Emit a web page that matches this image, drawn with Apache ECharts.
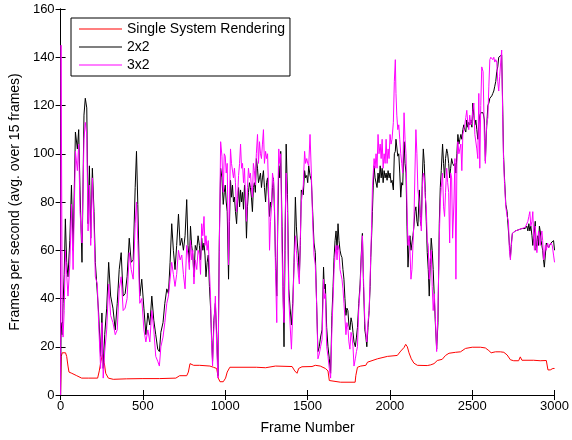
<!DOCTYPE html>
<html>
<head>
  <meta charset="UTF-8" />
  <title>Frames per second</title>
  <style type="text/css">
    * { margin: 0; padding: 0; }
    body { background: #fff; }
    #main { width: 572px; height: 440px; }
  </style>
</head>
<body>
  <div id="main"></div>
</body>
<script src="https://cdn.jsdelivr.net/npm/echarts@6/dist/echarts.min.js"></script>
<script type="text/javascript">
  // frame numbers sampled for the 2x2 and 3x2 runs
  const multiFrames = [0, 3, 10, 15, 22, 29, 37, 45, 56, 66, 76, 90, 102, 110, 118, 130, 142, 150, 159, 167,
    175, 183, 193, 203, 211, 223, 231, 243, 251, 259, 268, 280, 292, 304, 318, 332, 344, 356, 368, 380,
    392, 404, 417, 429, 441, 453, 461, 469, 481, 493, 506, 518, 530, 542, 554, 566, 578, 590, 600, 609,
    622, 633, 645, 655, 665, 675, 685, 695, 705, 716, 726, 736, 746, 756, 766, 774, 782, 789, 796, 803,
    810, 818, 827, 835, 843, 850, 857, 864, 871, 877, 883, 890, 897, 904, 911, 917, 923, 931, 940, 948,
    956, 964, 972, 980, 988, 994, 1000, 1006, 1012, 1020, 1026, 1032, 1038, 1044, 1050, 1056, 1062, 1069, 1075, 1081,
    1087, 1093, 1099, 1105, 1111, 1117, 1123, 1129, 1135, 1141, 1147, 1153, 1159, 1165, 1171, 1177, 1183, 1189, 1196, 1202,
    1208, 1214, 1220, 1226, 1232, 1238, 1245, 1251, 1257, 1263, 1269, 1275, 1281, 1287, 1293, 1299, 1305, 1313, 1319, 1325,
    1331, 1337, 1345, 1351, 1357, 1363, 1370, 1378, 1386, 1394, 1402, 1410, 1418, 1426, 1432, 1438, 1444, 1450, 1456, 1462,
    1468, 1474, 1482, 1488, 1495, 1501, 1507, 1515, 1523, 1531, 1539, 1547, 1555, 1563, 1571, 1579, 1588, 1597, 1602, 1608,
    1616, 1624, 1632, 1640, 1648, 1655, 1661, 1667, 1673, 1679, 1685, 1691, 1697, 1703, 1709, 1715, 1721, 1727, 1733, 1739,
    1745, 1751, 1757, 1764, 1770, 1776, 1782, 1790, 1797, 1803, 1811, 1819, 1826, 1833, 1840, 1848, 1854, 1860, 1867, 1874,
    1880, 1884, 1889, 1894, 1899, 1904, 1910, 1916, 1922, 1928, 1934, 1941, 1947, 1953, 1959, 1965, 1971, 1977, 1983, 1989,
    1995, 2001, 2007, 2013, 2021, 2027, 2033, 2037, 2042, 2048, 2054, 2060, 2066, 2072, 2078, 2086, 2092, 2098, 2104, 2110,
    2116, 2122, 2128, 2134, 2140, 2146, 2152, 2158, 2164, 2170, 2179, 2185, 2191, 2197, 2203, 2209, 2215, 2221, 2227, 2233,
    2239, 2245, 2251, 2257, 2263, 2270, 2276, 2284, 2292, 2300, 2306, 2312, 2320, 2326, 2332, 2338, 2345, 2351, 2357, 2363,
    2369, 2375, 2381, 2389, 2395, 2401, 2407, 2413, 2419, 2425, 2431, 2437, 2443, 2449, 2455, 2461, 2467, 2473, 2479, 2485,
    2492, 2498, 2504, 2510, 2516, 2522, 2528, 2534, 2540, 2546, 2552, 2558, 2566, 2574, 2580, 2587, 2595, 2601, 2607, 2613,
    2619, 2625, 2631, 2637, 2643, 2649, 2655, 2661, 2667, 2673, 2679, 2685, 2690, 2696, 2704, 2712, 2720, 2726, 2732, 2738,
    2744, 2752, 2762, 2772, 2782, 2792, 2802, 2812, 2822, 2832, 2838, 2844, 2850, 2856, 2863, 2868, 2873, 2878, 2883, 2888,
    2893, 2898, 2903, 2908, 2913, 2918, 2923, 2928, 2933, 2938, 2944, 2950, 2958, 2964, 2970, 2978, 2986, 2994, 3000]

  const fps2x2 = [0, 30, 25, 38, 50, 73, 55, 49, 64, 87, 60, 109, 102, 110, 85, 55, 116, 123, 119, 71,
    95, 65, 94, 76, 55, 55, 34, 16, 34, 11, 25, 36, 55, 41, 36, 27, 38, 52, 59, 41,
    42, 49, 65, 55, 56, 86, 101, 79, 41, 48, 36, 25, 34, 29, 41, 31, 25, 19, 18, 26,
    30, 38, 44, 42, 55, 71, 60, 52, 62, 75, 62, 65, 60, 66, 81, 62, 55, 70, 62, 58,
    49, 62, 60, 66, 62, 56, 65, 60, 63, 58, 49, 55, 58, 45, 36, 24, 14, 31, 38, 25,
    8, 65, 94, 90, 79, 84, 87, 80, 76, 48, 72, 89, 82, 87, 80, 82, 76, 71, 80, 86,
    78, 85, 80, 84, 77, 87, 80, 65, 78, 84, 88, 86, 82, 76, 86, 88, 84, 98, 94, 88,
    90, 92, 86, 90, 93, 86, 80, 88, 90, 82, 74, 80, 78, 86, 90, 76, 57, 41, 70, 95,
    90, 101, 70, 45, 20, 60, 104, 83, 44, 36, 29, 38, 55, 82, 70, 63, 58, 49, 62, 85,
    84, 83, 93, 90, 91, 88, 95, 91, 89, 76, 63, 59, 38, 18, 20, 24, 27, 53, 44, 46,
    28, 20, 15, 9, 33, 45, 57, 64, 68, 60, 71, 64, 60, 58, 57, 52, 48, 40, 33, 36,
    35, 29, 27, 32, 30, 26, 22, 20, 24, 28, 38, 46, 58, 67, 45, 27, 24, 20, 28, 35,
    45, 57, 66, 76, 87, 95, 90, 90, 86, 92, 88, 95, 90, 94, 88, 93, 90, 92, 89, 93,
    90, 92, 88, 89, 85, 100, 101, 106, 106, 99, 100, 92, 82, 88, 87, 105, 96, 92, 70, 53,
    62, 66, 60, 60, 66, 70, 76, 78, 72, 70, 85, 72, 70, 90, 102, 96, 84, 72, 59, 52,
    41, 54, 65, 60, 52, 40, 30, 19, 30, 71, 86, 93, 104, 96, 90, 98, 102, 100, 96, 90,
    94, 98, 96, 95, 96, 92, 100, 108, 104, 106, 108, 106, 110, 112, 110, 109, 114, 111, 113, 112,
    114, 111, 121, 116, 112, 114, 110, 106, 112, 116, 117, 117, 117, 114, 97, 110, 120, 121, 123, 123,
    124, 125, 126, 128, 130, 134, 136, 140, 140.5, 140.5, 141, 120, 100, 90, 79, 76, 68, 62, 57, 63,
    67, 67.5, 68, 68.5, 68.5, 69, 69, 69, 69, 70, 68, 71, 68, 70, 66, 62, 65, 68, 72, 60,
    60, 66, 62, 70, 68, 64, 62, 60, 56, 53, 58, 63, 62, 61, 62, 63, 63, 64, 60]

  const fps3x2 = [0, 145, 30, 24, 35, 60, 50, 41, 54, 79, 52, 101, 93, 104, 76, 63, 106, 113, 108, 68,
    87, 62, 90, 71, 49, 46, 30, 11, 30, 7, 18, 27, 46, 33, 30, 25, 27, 44, 49, 35,
    36, 40, 59, 52, 48, 71, 80, 64, 38, 40, 27, 22, 27, 22, 35, 27, 16, 14, 12, 20,
    24, 30, 38, 41, 48, 55, 50, 45, 50, 60, 56, 58, 50, 44, 62, 58, 52, 64, 56, 60,
    46, 56, 52, 60, 58, 50, 71, 66, 74, 62, 66, 60, 64, 52, 40, 22, 12, 28, 41, 20,
    7, 60, 105, 99, 84, 100, 99, 92, 96, 54, 80, 102, 96, 96, 90, 94, 88, 76, 82, 91,
    96, 104, 94, 96, 88, 94, 82, 72, 86, 94, 90, 92, 86, 82, 96, 93, 87, 100, 108, 96,
    105, 100, 98, 104, 110, 96, 101, 98, 100, 86, 60, 72, 78, 92, 89, 80, 52, 30, 80, 102,
    96, 100, 60, 40, 30, 70, 92, 76, 40, 29, 19, 34, 55, 66, 60, 55, 50, 46, 65, 80,
    80, 87, 101, 96, 98, 96, 95, 108, 92, 72, 58, 54, 38, 15, 17, 20, 23, 48, 40, 42,
    20, 16, 11, 7, 28, 40, 52, 58, 62, 56, 62, 60, 52, 50, 48, 44, 38, 32, 25, 30,
    28, 22, 19, 26, 24, 20, 12, 15, 18, 20, 36, 44, 56, 66, 48, 30, 26, 22, 30, 35,
    48, 58, 70, 86, 92, 98, 94, 100, 94, 108, 100, 104, 98, 106, 94, 100, 96, 106, 96, 102,
    98, 108, 104, 106, 113, 130, 139, 125, 116, 110, 112, 106, 100, 96, 92, 117, 106, 100, 78, 62,
    66, 60, 48, 52, 62, 72, 92, 110, 100, 85, 80, 74, 68, 86, 92, 90, 82, 78, 64, 62,
    48, 56, 60, 45, 35, 42, 32, 18, 35, 65, 80, 86, 92, 78, 74, 84, 94, 88, 84, 63,
    92, 90, 65, 80, 98, 48, 96, 105, 100, 102, 104, 93, 108, 110, 112, 115, 118, 113, 110, 116,
    112, 113, 118, 121, 108, 108, 102, 98, 125, 94, 120, 136, 134, 106, 96, 112, 115, 128, 139, 140,
    140, 139, 140, 138, 139, 138, 130, 126, 132, 138, 143, 116, 98, 88, 78, 74, 72, 60, 56, 62,
    67, 67, 68, 68, 68.5, 69, 69, 69, 69.5, 70, 72, 74, 76, 70, 72, 76, 66, 60, 70, 62,
    59, 64, 68, 66, 62, 66, 68, 64, 56, 57, 62, 60, 63, 61, 62, 63, 62, 58, 55]

  // single system rendering is much smoother, sampled more sparsely
  const singleFrames = [0, 4, 10, 17, 30, 37, 45, 51, 68, 98, 128, 168, 225, 235, 245, 255, 265, 274, 290, 320,
    400, 500, 600, 700, 723, 766, 776, 786, 808, 845, 907, 928, 948, 958, 968, 988, 1002, 1012, 1028, 1189,
    1245, 1305, 1406, 1422, 1436, 1446, 1466, 1527, 1547, 1577, 1608, 1624, 1632, 1644, 1700, 1789, 1793, 1803, 1823, 1854,
    1864, 1924, 1985, 2045, 2066, 2086, 2096, 2106, 2116, 2130, 2146, 2167, 2227, 2248, 2268, 2288, 2318, 2338, 2359, 2399,
    2429, 2459, 2500, 2550, 2580, 2601, 2615, 2641, 2671, 2692, 2712, 2732, 2752, 2782, 2792, 2802, 2873, 2913, 2950, 2960,
    2974, 2990, 3000]

  const fpsSingle = [0, 16, 17.5, 18, 17.5, 16, 12, 9.5, 9, 8, 7, 7, 7, 10, 14, 17, 13.5, 9, 7, 6.5,
    6.7, 6.8, 6.8, 7, 8, 8, 9.5, 13, 12.3, 12.3, 12, 11.5, 11, 7, 5.5, 5.5, 7, 9.5, 11.5, 11.5,
    11.3, 12, 11.8, 10, 9, 11, 11.7, 11.8, 12.3, 12, 11, 10, 6, 5.5, 5.3, 5.3, 8, 11.5, 12, 12.3,
    13.6, 15, 16, 16.4, 18.2, 19.7, 21, 20, 17.5, 15, 13.2, 12.3, 12.2, 12.5, 13, 14.3, 14.8, 16.4, 17.3, 17.7,
    17.9, 19.3, 19.8, 19.8, 19.5, 18.4, 17.5, 17.9, 17.9, 17.7, 16.6, 14.6, 14.2, 14.2, 15.8, 14.4, 14.4, 14.2, 14.3, 10.4,
    10.4, 11, 11]

  const seriesNames = ['Single System Rendering', '2x2', '3x2']
  const seriesColors = ['#ff0000', '#000000', '#ff00ff']

  function pairs(xs, ys) {
    return xs.map((x, i) => [x, ys[i]])
  }

  const font = 'Liberation Sans, Arial, Helvetica, sans-serif'
  let myChart = echarts.init(document.getElementById('main'))

  // MATLAB style box: a second x axis on top and a second y axis on the right, ticks pointing in
  function boxAxis(extra) {
    return Object.assign({
      type: 'value',
      axisLine: { show: true, lineStyle: { color: '#000' } },
      axisTick: { show: true, inside: true, length: 5, lineStyle: { color: '#000' } },
      axisLabel: { show: false },
      splitLine: { show: false }
    }, extra)
  }

  let option = {
    backgroundColor: '#fff',
    animation: false,
    textStyle: { fontFamily: font },
    grid: { left: 60, right: 16, top: 9, bottom: 40 },
    legend: {
      orient: 'vertical',
      left: 71,
      top: 18,
      icon: 'rect',
      itemWidth: 43,
      itemHeight: 1,
      itemGap: 2,
      padding: [3, 5, 3, 8],
      borderColor: '#000',
      borderWidth: 1,
      backgroundColor: '#fff',
      textStyle: { fontSize: 14, color: '#000', fontFamily: font, lineHeight: 16 },
      data: seriesNames
    },
    xAxis: [
      boxAxis({
        min: 0, max: 3000, interval: 500,
        name: 'Frame Number',
        nameLocation: 'middle',
        nameGap: 26,
        nameTextStyle: { fontSize: 14, color: '#000' },
        axisLabel: { show: true, fontSize: 13, color: '#000', margin: 5, formatter: v => String(v) }
      }),
      boxAxis({ position: 'top', min: 0, max: 3000, interval: 500 })
    ],
    yAxis: [
      boxAxis({
        min: 0, max: 160, interval: 20,
        name: 'Frames per second (avg. over 15 frames)',
        nameLocation: 'middle',
        nameGap: 36,
        nameTextStyle: { fontSize: 14, color: '#000' },
        axisLabel: { show: true, fontSize: 13, color: '#000', margin: 6 }
      }),
      boxAxis({ position: 'right', min: 0, max: 160, interval: 20 })
    ],
    series: seriesNames.map((name, i) => ({
      name: name,
      type: 'line',
      symbol: 'none',
      color: seriesColors[i],
      lineStyle: { width: 1, color: seriesColors[i] },
      data: i === 0 ? pairs(singleFrames, fpsSingle) : pairs(multiFrames, i === 1 ? fps2x2 : fps3x2)
    }))
  }
  myChart.setOption(option)
</script>
</html>
